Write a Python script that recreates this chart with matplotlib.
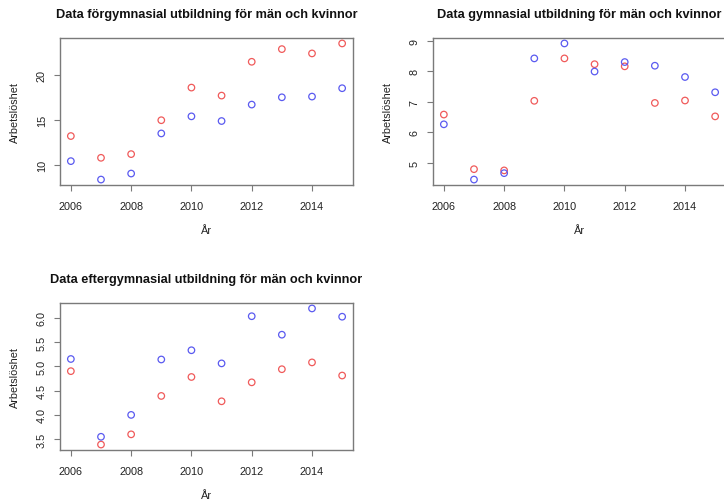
import matplotlib
matplotlib.use("Agg")
import matplotlib.pyplot as plt
import numpy as np

years = [2006, 2007, 2008, 2009, 2010, 2011, 2012, 2013, 2014, 2015]

forgym_kvinnor = [13.20, 10.78, 11.19, 14.96, 18.59, 17.70, 21.46, 22.87, 22.39, 23.50]
forgym_man = [10.41, 8.36, 9.03, 13.49, 15.39, 14.87, 16.70, 17.51, 17.59, 18.52]

gym_kvinnor = [6.58, 4.79, 4.75, 7.03, 8.42, 8.23, 8.16, 6.96, 7.04, 6.52]
gym_man = [6.26, 4.45, 4.66, 8.42, 8.91, 7.99, 8.30, 8.18, 7.81, 7.31]

eftergym_kvinnor = [4.90, 3.39, 3.60, 4.39, 4.78, 4.28, 4.67, 4.94, 5.08, 4.81]
eftergym_man = [5.15, 3.55, 4.00, 5.14, 5.33, 5.06, 6.03, 5.65, 6.19, 6.02]

titles = ["Data förgymnasial utbildning för män och kvinnor",
          "Data gymnasial utbildning för män och kvinnor",
          "Data eftergymnasial utbildning för män och kvinnor"]
xlabel = "År"
ylabel = "Arbetslöshet"
xticks = [2006, 2008, 2010, 2012, 2014]
yticks = [[10, 15, 20], [5, 6, 7, 8, 9], [3.5, 4.0, 4.5, 5.0, 5.5, 6.0]]
ytick_fmt = ["{:.0f}", "{:.0f}", "{:.1f}"]

RED = "#f05a5a"
BLUE = "#5a5af0"
GREY = "#7a7a7a"
TXT = "#222222"

plt.rcParams["font.family"] = ["Liberation Sans", "DejaVu Sans"]

W, H = 724, 502
fig = plt.figure(figsize=(W / 100, H / 100), dpi=100)

# axes boxes in pixels: (left, top, right, bottom)
boxes = [(60, 39, 353, 186), (433, 39, 726, 186), (60, 304, 353, 451)]
series = [(forgym_kvinnor, forgym_man), (gym_kvinnor, gym_man), (eftergym_kvinnor, eftergym_man)]

for i, (box, (kv, ma)) in enumerate(zip(boxes, series)):
    l, t, r, b = box
    ax = fig.add_axes([l / W, 1 - b / H, (r - l) / W, (b - t) / H])
    ax.scatter(years, kv, s=22, facecolors="none", edgecolors=RED, linewidths=0.9)
    ax.scatter(years, ma, s=22, facecolors="none", edgecolors=BLUE, linewidths=0.9)
    # R-like 4% expansion
    x0, x1 = min(years), max(years)
    dx = (x1 - x0) * 0.04
    ax.set_xlim(x0 - dx, x1 + dx)
    allv = list(kv) + list(ma)
    y0, y1 = min(allv), max(allv)
    dy = (y1 - y0) * 0.04
    ax.set_ylim(y0 - dy, y1 + dy)
    ax.set_xticks(xticks)
    ax.set_xticklabels([str(x) for x in xticks])
    ax.set_yticks(yticks[i])
    ax.set_yticklabels([ytick_fmt[i].format(v) for v in yticks[i]], rotation=90, va="center")
    for s in ax.spines.values():
        s.set_color(GREY)
        s.set_linewidth(1.0)
    ax.tick_params(axis="both", direction="out", length=4.5, width=0.8, color=GREY,
                   labelsize=7.8, labelcolor=TXT, pad=5)
    ax.tick_params(axis="x", pad=7)
    axw = r - l
    axh = b - t
    ax.text(0.5, 1 + 24 / axh, titles[i], transform=ax.transAxes, ha="center", va="center",
            fontsize=9.2, fontweight="bold", color="#111111")
    ax.text(0.5, -45 / axh, xlabel, transform=ax.transAxes, ha="center", va="center",
            fontsize=7.8, color=TXT)
    ax.text(-45 / axw, 0.5, ylabel, transform=ax.transAxes, ha="center", va="center",
            rotation=90, fontsize=7.8, color=TXT)

fig.savefig("out.png", dpi=100)
